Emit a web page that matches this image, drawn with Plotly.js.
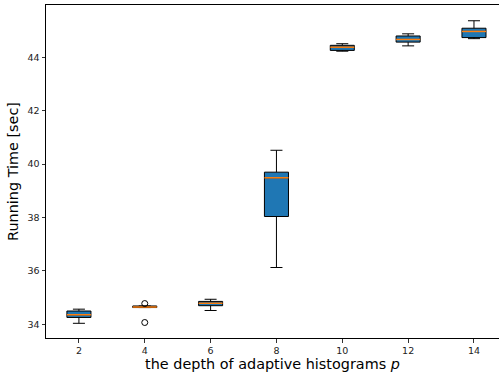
<!DOCTYPE html>
<html><head><meta charset="utf-8">
<script src="https://cdn.plot.ly/plotly-3.0.1.min.js"></script>
<style>html,body{margin:0;padding:0;background:#fff}</style>
</head><body>
<div id="chart" style="width:499px;height:375px"></div>
<script>
const depths = [2, 4, 6, 8, 10, 12, 14];
const lowerWhisker = [34.04, 34.63, 34.52, 36.13, 44.23, 44.43, 44.70];
const q1Values     = [34.26, 34.63, 34.70, 38.04, 44.26, 44.57, 44.74];
const medianValues = [34.36, 34.65, 34.79, 39.49, 44.38, 44.67, 44.97];
const q3Values     = [34.50, 34.69, 34.86, 39.70, 44.45, 44.80, 45.09];
const upperWhisker = [34.57, 34.69, 34.94, 40.52, 44.51, 44.88, 45.37];
const outlierDepth = [4, 4];
const outlierValue = [34.78, 34.07];
const tickValues = [2, 4, 6, 8, 10, 12, 14];
const yTicks = [34, 36, 38, 40, 42, 44];

const boxW = 0.73;
const medX = [], medY = [];
depths.forEach((d, i) => {
  medX.push(d - boxW / 2, d + boxW / 2, null);
  medY.push(medianValues[i], medianValues[i], null);
});

const traces = [
  {
    type: 'box', x: depths,
    q1: q1Values, median: medianValues, q3: q3Values,
    lowerfence: lowerWhisker, upperfence: upperWhisker,
    boxpoints: false, width: boxW, whiskerwidth: 0.5,
    fillcolor: '#1f77b4', line: {color: '#000000', width: 1},
    showlegend: false, hoverinfo: 'skip'
  },
  {
    type: 'scatter', mode: 'lines', x: medX, y: medY,
    line: {color: '#ff7f0e', width: 1.5}, showlegend: false, hoverinfo: 'skip'
  },
  {
    type: 'scatter', mode: 'markers', x: outlierDepth, y: outlierValue,
    marker: {symbol: 'circle-open', size: 6, color: '#000000', line: {width: 1}},
    showlegend: false, hoverinfo: 'skip'
  }
];

const layout = {
  width: 499, height: 375,
  margin: {l: 46, r: 0, t: 5, b: 37},
  paper_bgcolor: '#ffffff', plot_bgcolor: '#ffffff',
  font: {family: 'DejaVu Sans', color: '#000000'},
  xaxis: {
    range: [1, 14.76], tickvals: tickValues, ticktext: tickValues.map(String),
    showgrid: false, zeroline: false,
    showline: true, linecolor: '#000000', linewidth: 1, mirror: true,
    ticks: 'outside', ticklen: 3.5, tickwidth: 0.8, tickcolor: '#000000',
    tickfont: {size: 9.5, color: '#222222'},
    title: {text: 'the depth of adaptive histograms <i>p</i>', font: {size: 14.4}, standoff: 4}
  },
  yaxis: {
    range: [33.49, 45.96], tickvals: yTicks, ticktext: yTicks.map(String),
    showgrid: false, zeroline: false,
    showline: true, linecolor: '#000000', linewidth: 1,
    ticks: 'outside', ticklen: 3.5, tickwidth: 0.8, tickcolor: '#000000',
    tickfont: {size: 9.5, color: '#222222'},
    title: {text: 'Running Time [sec]', font: {size: 14.4}, standoff: 5}
  }
};

Plotly.newPlot('chart', traces, layout, {displayModeBar: false, staticPlot: true});
</script>
</body></html>
